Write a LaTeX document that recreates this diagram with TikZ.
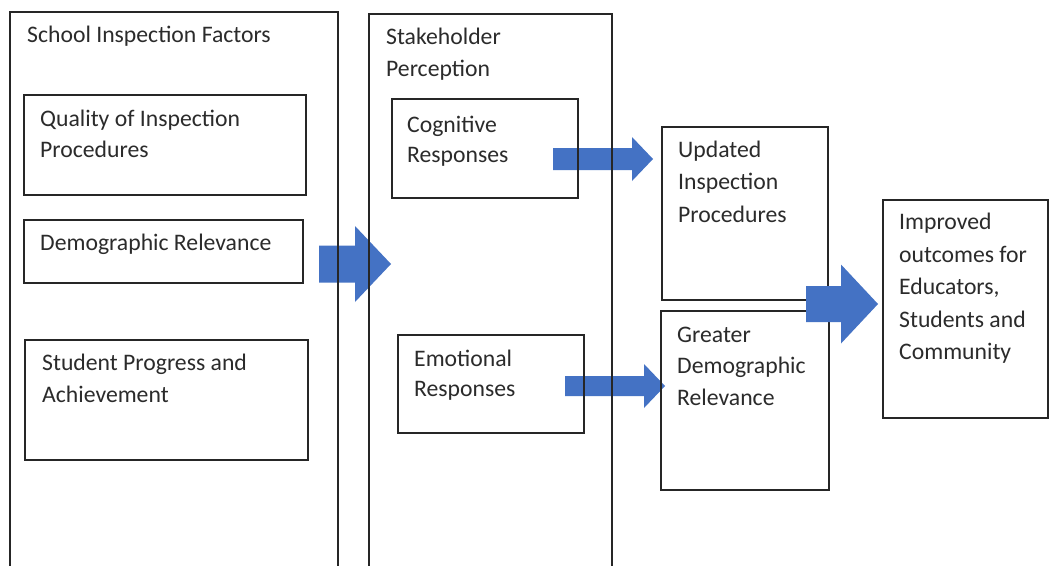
\documentclass[tikz,border=0pt]{standalone}
\usepackage{fontspec}
\setmainfont{Carlito}
\definecolor{arrowblue}{HTML}{4472C4}
\definecolor{linecol}{HTML}{262626}
\definecolor{txtcol}{HTML}{2B2B2B}
\tikzset{
  box/.style={draw=linecol, line width=1.3pt, rectangle, inner sep=0pt, outer sep=0pt, anchor=north west},
  lbl/.style={anchor=north west, inner sep=0pt, align=left, text=txtcol,
              font=\fontsize{23.7}{#1}\selectfont},
  lbl/.default=31,
  blockarrow/.style={fill=arrowblue}
}
% x0 x1 x2 yc shafthalf headhalf
\newcommand{\mybarrow}[6]{%
  \fill[blockarrow] (#1,#4-#5) -- (#2,#4-#5) -- (#2,#4-#6) -- (#3,#4) --
    (#2,#4+#6) -- (#2,#4+#5) -- (#1,#4+#5) -- cycle;}
\begin{document}
\begin{tikzpicture}[x=1pt,y=-1pt]
\clip (0,0) rectangle (1057,565);
\fill[white] (0,0) rectangle (1057,565);

% block arrows under the boxes
\mybarrow{319}{355}{391}{264}{18.5}{38}
\mybarrow{553}{632}{653}{159}{11}{22}
\mybarrow{565}{644}{665}{386}{10}{22}

% outer open columns
\node[box, minimum width=328pt, minimum height=620pt] (factors) at (10,12) {};
\node[box, minimum width=243pt, minimum height=620pt] (stake) at (369,14) {};

% left column boxes
\node[box, minimum width=282pt, minimum height=100pt] (quality) at (24,95) {};
\node[box, minimum width=279pt, minimum height=63pt] (demog) at (24,220) {};
\node[box, minimum width=283pt, minimum height=120pt] (student) at (25,340) {};

% middle boxes
\node[box, minimum width=186pt, minimum height=99pt] (cogn) at (392,99) {};
\node[box, minimum width=186pt, minimum height=98pt] (emot) at (398,335) {};

% right boxes
\node[box, minimum width=166pt, minimum height=173pt] (updated) at (662,127) {};
\node[box, minimum width=168pt, minimum height=179pt] (greater) at (661,311) {};
\node[box, minimum width=165pt, minimum height=218pt] (improved) at (883,200) {};

% arrow on top
\mybarrow{806}{841}{878}{304}{18}{39.5}

% texts (top = baseline - 0.7*baselineskip)
\node[lbl] (tfactors) at (27,42-21.7) {\strut School Inspection Factors};
\node[lbl] (tquality) at (40,126-21.7) {\strut Quality of Inspection\\Procedures};
\node[lbl] (tdemog) at (40,250-21.7) {\strut Demographic Relevance};
\node[lbl=32] (tstudent) at (42,370-22.4) {\strut Student Progress and\\Achievement};
\node[lbl=32.5] (tstake) at (386,44-22.75) {\strut Stakeholder\\Perception};
\node[lbl=30] (tcogn) at (407,132-21) {\strut Cognitive\\Responses};
\node[lbl=30] (temot) at (414,366-21) {\strut Emotional\\Responses};
\node[lbl=32.5] (tupdated) at (678,157-22.75) {\strut Updated\\Inspection\\Procedures};
\node[lbl=31.5] (tgreater) at (677,342-22.05) {\strut Greater\\Demographic\\Relevance};
\node[lbl=32.5] (timproved) at (899,229.5-22.75) {\strut Improved\\outcomes for\\Educators,\\Students and\\Community};
\end{tikzpicture}
\end{document}
